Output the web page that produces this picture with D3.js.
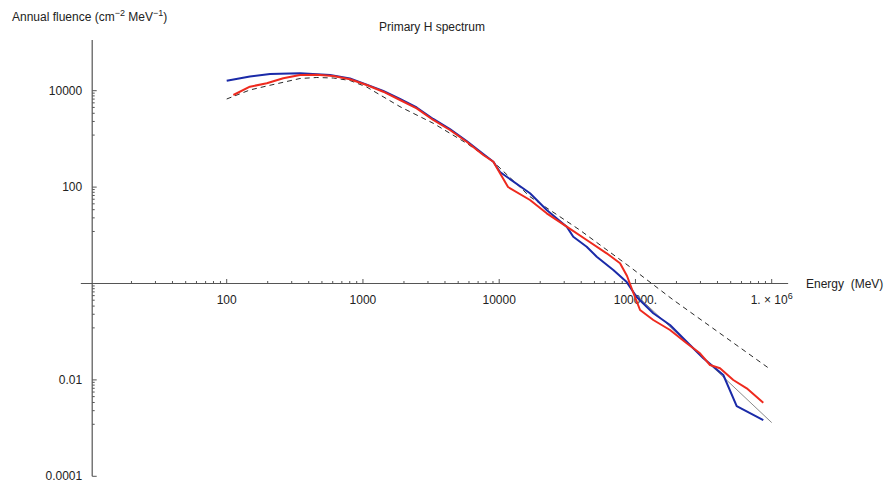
<!DOCTYPE html>
<html><head><meta charset="utf-8">
<script src="https://cdn.jsdelivr.net/npm/d3@7"></script>
<style>body{margin:0;background:#fff;} text{font-family:"Liberation Sans",Arial,Helvetica,sans-serif;fill:#222;}</style>
</head><body>
<svg id="c" width="886" height="484"></svg>
<script>
// ---- data (energy in MeV, annual fluence in cm^-2 MeV^-1) ----
const blueE = [100,148,208,345,573,803,1065,1410,1870,2480,3280,4350,5770,7640,9060,10140,11350,16830,22320,31290,34970,43860,51970,68790,86290,102100,135200,179400,237800,315000,441500,553600,867600];
const blueF = [16100,19700,22200,23000,21200,17900,13400,9860,6730,4480,2590,1600,904,486,336,206,164,74.4,33.5,15.1,9.35,5.80,3.60,1.91,1.07,0.525,0.241,0.138,0.0620,0.0281,0.01264,0.00287,0.00147];
const redE = [112,148,197,260,345,458,606,803,1065,1410,1870,2480,3280,4350,5770,7640,9060,10140,11610,16830,22320,31290,43860,61480,77070,86760,95960,108100,135200,179400,237800,297700,352400,417500,522600,655600,867600];
const redF = [8150,12100,14250,18080,21200,21500,20200,17250,13130,9530,6410,4310,2470,1530,875,463,336,193,100.5,54.0,28.6,15.1,7.98,4.23,2.63,1.43,0.667,0.282,0.175,0.1084,0.0574,0.0356,0.0204,0.0174,0.00995,0.00670,0.00336];
const modelE = [100,148,197,345,458,606,803,1065,1870,3280,5770,9060,16830,38990,90780,189700,977000];
const modelF = [6730,10350,12520,17910,18790,18330,16280,11930,4660,2110,811,336,63.2,12.9,2.23,0.455,0.0166];
const fitE = [100000,1000000];
const fitF = [0.6,0.0013];
const xTickValues = [100,1000,10000,100000,1000000];
const xTickLabels = ["100","1000","10000","100000.","1. \u00d7 10|6"];
const yTickValues = [10000,100,0.01,0.0001];
const yTickLabels = ["10000","100","0.01","0.0001"];
const title = "Primary H spectrum";
const xTitle = "Energy  (MeV)";

const svg = d3.select("#c");
const x = d3.scaleLog().domain([10,1e6]).range([90.45,771.7]);
const y = d3.scaleLog().domain([1e-4,1e5]).range([476.3,42.5]);
const axisCol = "#555";
const xOrigin = 10.3, yOrigin = 1;
const x0 = x(xOrigin), y0 = y(yOrigin);
const fs = 12;

// axes lines
svg.append("line").attr("x1",x(8.5)).attr("x2",x(1.32e6)).attr("y1",y0).attr("y2",y0)
  .attr("stroke",axisCol).attr("stroke-width",1.2);
svg.append("line").attr("x1",x0).attr("x2",x0).attr("y1",y(1.13e5)).attr("y2",y(1e-4))
  .attr("stroke",axisCol).attr("stroke-width",1.2);

// x ticks
const xMinor = [];
for (let d=10; d<1e6; d*=10) for (let k=2;k<=9;k++) xMinor.push(d*k);
svg.append("g").selectAll("line").data(xMinor).join("line")
  .attr("x1",d=>x(d)).attr("x2",d=>x(d)).attr("y1",y0).attr("y2",y0-2.5)
  .attr("stroke",axisCol).attr("stroke-width",1);
svg.append("g").selectAll("line").data(xTickValues).join("line")
  .attr("x1",d=>x(d)).attr("x2",d=>x(d)).attr("y1",y0).attr("y2",y0-4.5)
  .attr("stroke",axisCol).attr("stroke-width",1);
const xl = svg.append("g").selectAll("text").data(xTickValues).join("text")
  .attr("x",d=>x(d)).attr("y",y0+20).attr("text-anchor","middle").attr("font-size",fs);
xl.each(function(d,i){
  const parts = xTickLabels[i].split("|");
  const t = d3.select(this);
  t.append("tspan").text(parts[0]);
  if (parts[1]) t.append("tspan").attr("dy",-5).attr("font-size",9).text(parts[1]);
});

// y ticks
const yMinor = [];
yTickValues.concat([1]).forEach(M=>{ for(let k=1;k<=8;k++) yMinor.push(M*(1-0.11*k)); });
svg.append("g").selectAll("line").data(yMinor.filter(v=>v>1e-4)).join("line")
  .attr("x1",x0).attr("x2",x0+2.5).attr("y1",d=>y(d)).attr("y2",d=>y(d))
  .attr("stroke",axisCol).attr("stroke-width",1);
svg.append("g").selectAll("line").data(yTickValues.concat([1])).join("line")
  .attr("x1",x0).attr("x2",x0+4.5).attr("y1",d=>y(d)).attr("y2",d=>y(d))
  .attr("stroke",axisCol).attr("stroke-width",1);
svg.append("g").selectAll("text").data(yTickValues).join("text")
  .attr("x",x0-10).attr("y",d=>y(d)+4).attr("text-anchor","end").attr("font-size",fs)
  .text((d,i)=>yTickLabels[i]);

// curves
const line = (E,F)=>d3.line().x(i=>x(E[i])).y(i=>y(F[i]))(d3.range(E.length));
svg.append("path").attr("d",line(fitE,fitF)).attr("fill","none").attr("stroke","#8a8a8a").attr("stroke-width",1);
svg.append("path").attr("d",line(modelE,modelF)).attr("fill","none").attr("stroke","#111")
  .attr("stroke-width",0.9).attr("stroke-dasharray","5,4");
svg.append("path").attr("d",line(blueE,blueF)).attr("fill","none").attr("stroke","#1a2aa8").attr("stroke-width",2).attr("stroke-linejoin","round");
svg.append("path").attr("d",line(redE,redF)).attr("fill","none").attr("stroke","#ee2a1e").attr("stroke-width",2).attr("stroke-linejoin","round");

// titles
svg.append("text").attr("x",432).attr("y",31).attr("text-anchor","middle").attr("font-size",fs).text(title);
svg.append("text").attr("x",806).attr("y",y0+4).attr("font-size",fs).attr("xml:space","preserve").text(xTitle);
const yt = svg.append("text").attr("x",12).attr("y",21).attr("font-size",fs);
yt.append("tspan").text("Annual fluence (cm");
yt.append("tspan").attr("dy",-5).attr("font-size",9).text("\u22122");
yt.append("tspan").attr("dy",5).text(" MeV");
yt.append("tspan").attr("dy",-5).attr("font-size",9).text("\u22121");
yt.append("tspan").attr("dy",5).text(")");
</script>
</body></html>
